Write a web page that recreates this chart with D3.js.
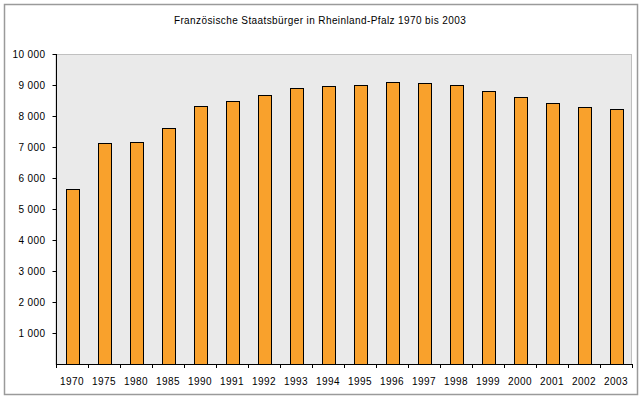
<!DOCTYPE html>
<html>
<head>
<meta charset="utf-8">
<script src="https://cdn.jsdelivr.net/npm/d3@7"></script>
<style>
    body { margin: 0; background: #fff; }
    svg text { font-family: "Liberation Sans", Arial, sans-serif; font-size: 10px; fill: #000; letter-spacing: 0.4px; }
</style>
</head>
<body>
<div id="chart"></div>
<script>
// Data
var years = ["1970", "1975", "1980", "1985", "1990", "1991", "1992", "1993", "1994",
    "1995", "1996", "1997", "1998", "1999", "2000", "2001", "2002", "2003"];
var citizens = [5660, 7140, 7150, 7600, 8310, 8470, 8670, 8890, 8960,
    8990, 9090, 9050, 8990, 8800, 8600, 8410, 8280, 8220];
var yTicks = [1000, 2000, 3000, 4000, 5000, 6000, 7000, 8000, 9000, 10000];

var chartTitle = "Französische Staatsbürger in Rheinland-Pfalz 1970 bis 2003";

// Sizing
var width = 642;
var height = 399;
var plot = { left: 56, top: 54, right: 632, bottom: 364 };

var svg = d3.select("#chart")
    .append("svg")
    .attr("width", width)
    .attr("height", height);

// Outer frame
svg.append("rect")
    .attr("x", 4.5)
    .attr("y", 4.5)
    .attr("width", 633)
    .attr("height", 390)
    .attr("fill", "#fff")
    .attr("stroke", "#9a9a9a")
    .attr("stroke-width", 1.5);

// Title
svg.append("text")
    .attr("x", 320)
    .attr("y", 24)
    .attr("text-anchor", "middle")
    .text(chartTitle);

// Scales
var x = d3.scaleBand()
    .domain(years)
    .range([plot.left, plot.right]);

var y = d3.scaleLinear()
    .domain([0, 10000])
    .range([plot.bottom, plot.top]);

// Plot background
svg.append("rect")
    .attr("x", plot.left)
    .attr("y", plot.top + 0.5)
    .attr("width", plot.right - plot.left - 0.5)
    .attr("height", plot.bottom - plot.top)
    .attr("fill", "#eaeaea")
    .attr("stroke", "#c0c0c0")
    .attr("stroke-width", 1);

// Bars
var barWidth = 13;
svg.selectAll(".bar")
    .data(citizens)
    .enter()
    .append("rect")
    .attr("class", "bar")
    .attr("x", (d, i) => Math.round(x(years[i]) + x.bandwidth() / 2 - barWidth / 2) + 0.5)
    .attr("y", d => Math.round(y(d)) + 0.5)
    .attr("width", barWidth)
    .attr("height", d => plot.bottom - Math.round(y(d)))
    .attr("fill", "#f9a12c")
    .attr("stroke", "#000")
    .attr("stroke-width", 1);

// Y axis
var yAxis = d3.axisLeft(y)
    .tickValues(yTicks)
    .tickSize(4)
    .tickPadding(7)
    .tickFormat(d => d3.format(",")(d).replace(",", " "));

var gy = svg.append("g")
    .attr("transform", `translate(${plot.left + 0.5},0)`)
    .call(yAxis);
gy.select(".domain").attr("d", `M0,${plot.top}V${plot.bottom}`);
gy.selectAll("text").attr("font-size", 10).attr("font-family", null);

// X axis: ticks sit on the category boundaries
var boundaries = years.map(d => x(d)).concat([plot.right]);
var gx = svg.append("g");
gx.append("line")
    .attr("x1", plot.left)
    .attr("x2", plot.right)
    .attr("y1", plot.bottom + 0.5)
    .attr("y2", plot.bottom + 0.5)
    .attr("stroke", "#000");
gx.selectAll(".xtick")
    .data(boundaries)
    .enter()
    .append("line")
    .attr("x1", d => Math.round(d) + 0.5)
    .attr("x2", d => Math.round(d) + 0.5)
    .attr("y1", plot.bottom)
    .attr("y2", plot.bottom + 4)
    .attr("stroke", "#000");
gx.selectAll(".xlabel")
    .data(years)
    .enter()
    .append("text")
    .attr("x", d => x(d) + x.bandwidth() / 2)
    .attr("y", 385)
    .attr("text-anchor", "middle")
    .text(d => d);
</script>
</body>
</html>
